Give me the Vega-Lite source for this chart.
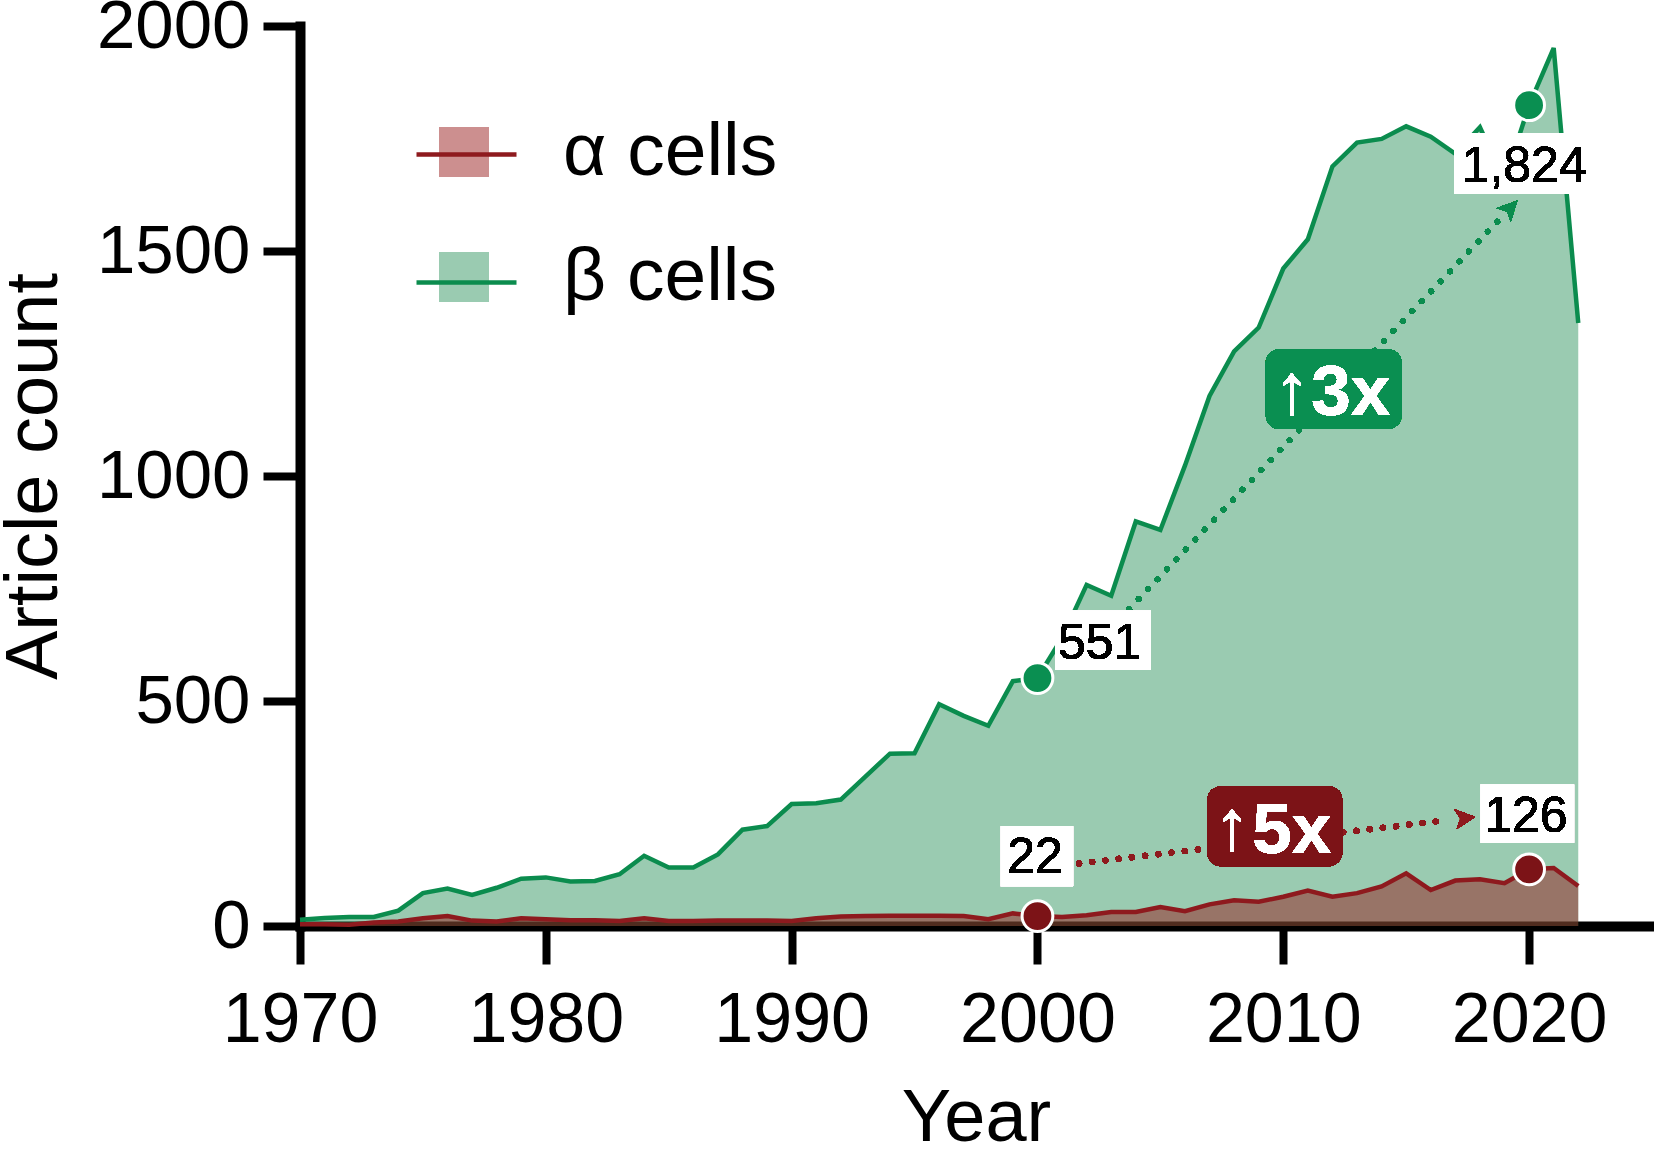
{
  "$schema": "https://vega.github.io/schema/vega-lite/v6.json",
  "width": 1352,
  "height": 900,
  "autosize": {"type": "none"},
  "padding": {"left": 300, "top": 26, "right": 2, "bottom": 223},
  "background": "white",
  "config": {"view": {"stroke": null}, "font": "Liberation Sans"},
  "datasets": {
    "counts": [
      {"year": 1970, "series": "α cells", "count": 4}, {"year": 1971, "series": "α cells", "count": 4}, {"year": 1972, "series": "α cells", "count": 3}, {"year": 1973, "series": "α cells", "count": 8}, {"year": 1974, "series": "α cells", "count": 10}, {"year": 1975, "series": "α cells", "count": 17}, {"year": 1976, "series": "α cells", "count": 22}, {"year": 1977, "series": "α cells", "count": 12}, {"year": 1978, "series": "α cells", "count": 10}, {"year": 1979, "series": "α cells", "count": 17},
      {"year": 1980, "series": "α cells", "count": 15}, {"year": 1981, "series": "α cells", "count": 13}, {"year": 1982, "series": "α cells", "count": 13}, {"year": 1983, "series": "α cells", "count": 11}, {"year": 1984, "series": "α cells", "count": 17}, {"year": 1985, "series": "α cells", "count": 11}, {"year": 1986, "series": "α cells", "count": 11}, {"year": 1987, "series": "α cells", "count": 12}, {"year": 1988, "series": "α cells", "count": 12}, {"year": 1989, "series": "α cells", "count": 12},
      {"year": 1990, "series": "α cells", "count": 11}, {"year": 1991, "series": "α cells", "count": 17}, {"year": 1992, "series": "α cells", "count": 21}, {"year": 1993, "series": "α cells", "count": 22}, {"year": 1994, "series": "α cells", "count": 23}, {"year": 1995, "series": "α cells", "count": 23}, {"year": 1996, "series": "α cells", "count": 23}, {"year": 1997, "series": "α cells", "count": 22}, {"year": 1998, "series": "α cells", "count": 15}, {"year": 1999, "series": "α cells", "count": 28},
      {"year": 2000, "series": "α cells", "count": 22}, {"year": 2001, "series": "α cells", "count": 20}, {"year": 2002, "series": "α cells", "count": 24}, {"year": 2003, "series": "α cells", "count": 31}, {"year": 2004, "series": "α cells", "count": 31}, {"year": 2005, "series": "α cells", "count": 42}, {"year": 2006, "series": "α cells", "count": 33}, {"year": 2007, "series": "α cells", "count": 48}, {"year": 2008, "series": "α cells", "count": 57}, {"year": 2009, "series": "α cells", "count": 54},
      {"year": 2010, "series": "α cells", "count": 65}, {"year": 2011, "series": "α cells", "count": 79}, {"year": 2012, "series": "α cells", "count": 65}, {"year": 2013, "series": "α cells", "count": 73}, {"year": 2014, "series": "α cells", "count": 88}, {"year": 2015, "series": "α cells", "count": 117}, {"year": 2016, "series": "α cells", "count": 80}, {"year": 2017, "series": "α cells", "count": 101}, {"year": 2018, "series": "α cells", "count": 104}, {"year": 2019, "series": "α cells", "count": 95},
      {"year": 2020, "series": "α cells", "count": 126}, {"year": 2021, "series": "α cells", "count": 129}, {"year": 2022, "series": "α cells", "count": 89},
      {"year": 1970, "series": "β cells", "count": 14}, {"year": 1971, "series": "β cells", "count": 18}, {"year": 1972, "series": "β cells", "count": 20}, {"year": 1973, "series": "β cells", "count": 20}, {"year": 1974, "series": "β cells", "count": 34}, {"year": 1975, "series": "β cells", "count": 73}, {"year": 1976, "series": "β cells", "count": 83}, {"year": 1977, "series": "β cells", "count": 69}, {"year": 1978, "series": "β cells", "count": 85}, {"year": 1979, "series": "β cells", "count": 105},
      {"year": 1980, "series": "β cells", "count": 108}, {"year": 1981, "series": "β cells", "count": 99}, {"year": 1982, "series": "β cells", "count": 100}, {"year": 1983, "series": "β cells", "count": 115}, {"year": 1984, "series": "β cells", "count": 156}, {"year": 1985, "series": "β cells", "count": 130}, {"year": 1986, "series": "β cells", "count": 130}, {"year": 1987, "series": "β cells", "count": 159}, {"year": 1988, "series": "β cells", "count": 214}, {"year": 1989, "series": "β cells", "count": 222},
      {"year": 1990, "series": "β cells", "count": 271}, {"year": 1991, "series": "β cells", "count": 273}, {"year": 1992, "series": "β cells", "count": 281}, {"year": 1993, "series": "β cells", "count": 332}, {"year": 1994, "series": "β cells", "count": 383}, {"year": 1995, "series": "β cells", "count": 384}, {"year": 1996, "series": "β cells", "count": 493}, {"year": 1997, "series": "β cells", "count": 467}, {"year": 1998, "series": "β cells", "count": 445}, {"year": 1999, "series": "β cells", "count": 544},
      {"year": 2000, "series": "β cells", "count": 551}, {"year": 2001, "series": "β cells", "count": 640}, {"year": 2002, "series": "β cells", "count": 758}, {"year": 2003, "series": "β cells", "count": 734}, {"year": 2004, "series": "β cells", "count": 899}, {"year": 2005, "series": "β cells", "count": 880}, {"year": 2006, "series": "β cells", "count": 1023}, {"year": 2007, "series": "β cells", "count": 1178}, {"year": 2008, "series": "β cells", "count": 1277}, {"year": 2009, "series": "β cells", "count": 1330},
      {"year": 2010, "series": "β cells", "count": 1461}, {"year": 2011, "series": "β cells", "count": 1526}, {"year": 2012, "series": "β cells", "count": 1688}, {"year": 2013, "series": "β cells", "count": 1741}, {"year": 2014, "series": "β cells", "count": 1749}, {"year": 2015, "series": "β cells", "count": 1777}, {"year": 2016, "series": "β cells", "count": 1754}, {"year": 2017, "series": "β cells", "count": 1716}, {"year": 2018, "series": "β cells", "count": 1775}, {"year": 2019, "series": "β cells", "count": 1655},
      {"year": 2020, "series": "β cells", "count": 1824}, {"year": 2021, "series": "β cells", "count": 1951}, {"year": 2022, "series": "β cells", "count": 1340}
    ]
  },
  "data": {"name": "counts"},
  "layer": [
    {
      "transform": [{"filter": "datum.series === 'β cells'"}],
      "mark": {"type": "area", "fillOpacity": 1},
      "encoding": {
        "x": {"field": "year", "type": "quantitative", "scale": {"domain": [1970, 2025], "nice": false, "zero": false},
          "axis": {"values": [1970, 1980, 1990, 2000, 2010, 2020], "format": "d", "labelFontSize": 70, "labelFont": "Liberation Sans", "labelColor": "black", "labelPadding": 22, "labelFlush": false, "labelOverlap": false, "labelBound": false, "tickSize": 38, "tickWidth": 8, "tickColor": "black", "domainColor": "black", "domainWidth": 10, "domainCap": "square", "grid": false, "title": "Year", "titleFont": "Liberation Sans", "titleFontSize": 74, "titleFontWeight": "normal", "titleColor": "black", "titlePadding": 27}},
        "y": {"field": "count", "type": "quantitative", "stack": null, "scale": {"domain": [0, 2000], "nice": false},
          "axis": {"values": [0, 500, 1000, 1500, 2000], "format": "d", "labelFontSize": 69, "labelFont": "Liberation Sans", "labelColor": "black", "labelPadding": 13, "labelFlush": false, "labelOverlap": false, "tickSize": 37, "tickWidth": 8, "tickColor": "black", "domainColor": "black", "domainWidth": 10, "domainCap": "square", "grid": false, "title": "Article count", "titleFont": "Liberation Sans", "titleFontSize": 74, "titleFontWeight": "normal", "titleColor": "black", "titlePadding": 28}},
        "fill": {"field": "series", "type": "nominal",
          "scale": {"domain": ["α cells", "β cells"], "range": ["rgba(150,24,24,0.485)", "rgba(31,139,82,0.45)"]},
          "legend": {"orient": "none", "legendX": 114, "legendY": 76, "title": null, "padding": 0, "symbolType": "M-0.5,-0.5H0.5V0.5H-0.5Z", "symbolSize": 10000, "symbolStrokeWidth": 0, "symbolOpacity": 1, "labelFont": "Liberation Sans", "labelFontSize": 75, "labelColor": "black", "labelOffset": 49, "labelLimit": 600, "rowPadding": 37}}
      }
    },
    {
      "transform": [{"filter": "datum.series === 'α cells'"}],
      "mark": {"type": "area", "fillOpacity": 1},
      "encoding": {
        "x": {"field": "year", "type": "quantitative"},
        "y": {"field": "count", "type": "quantitative", "stack": null},
        "fill": {"field": "series", "type": "nominal"}
      }
    },
    {
      "transform": [{"filter": "datum.series === 'β cells'"}],
      "mark": {"type": "line", "strokeWidth": 4.5},
      "encoding": {
        "x": {"field": "year", "type": "quantitative"},
        "y": {"field": "count", "type": "quantitative"},
        "stroke": {"field": "series", "type": "nominal", "scale": {"range": ["#8E1A1E", "#0B8C4E"]},
          "legend": {"orient": "none", "legendX": 114, "legendY": 76, "title": null, "padding": 0, "symbolType": "M-1,0H1", "symbolSize": 10000, "symbolStrokeWidth": 4.5, "symbolOpacity": 1, "labelFont": "Liberation Sans", "labelFontSize": 75, "labelOpacity": 0, "labelOffset": 49, "labelLimit": 600, "rowPadding": 37}}
      }
    },
    {
      "transform": [{"filter": "datum.series === 'α cells'"}],
      "mark": {"type": "line", "strokeWidth": 4.5},
      "encoding": {
        "x": {"field": "year", "type": "quantitative"},
        "y": {"field": "count", "type": "quantitative"},
        "stroke": {"field": "series", "type": "nominal"}
      }
    },
    {
      "mark": {"type": "rule", "stroke": "#0B8C4E", "strokeWidth": 5.5, "strokeCap": "round", "strokeDash": [0.1, 13.6]},
      "encoding": {
        "x": {"datum": 2003.73, "type": "quantitative"},
        "y": {"datum": 704.4, "type": "quantitative"},
        "x2": {"datum": 2018.9},
        "y2": {"datum": 1576.3}
      }
    },
    {
      "mark": {"type": "point", "shape": "M0,-1L0.9,0.8L0,0.35L-0.9,0.8Z", "filled": true, "size": 484, "angle": 43.5, "fill": "#0B8C4E", "opacity": 1, "strokeWidth": 0},
      "encoding": {
        "x": {"datum": 2019.21, "type": "quantitative"},
        "y": {"datum": 1594.1, "type": "quantitative"}
      }
    },
    {
      "mark": {"type": "rule", "stroke": "#8E1A1E", "strokeWidth": 6, "strokeCap": "round", "strokeDash": [0.1, 13.2]},
      "encoding": {
        "x": {"datum": 2001.69, "type": "quantitative"},
        "y": {"datum": 138.8, "type": "quantitative"},
        "x2": {"datum": 2016.62},
        "y2": {"datum": 235.0}
      }
    },
    {
      "mark": {"type": "point", "shape": "M0,-1L0.9,0.8L0,0.35L-0.9,0.8Z", "filled": true, "size": 484, "angle": 83.3, "fill": "#8E1A1E", "opacity": 1, "strokeWidth": 0},
      "encoding": {
        "x": {"datum": 2017.36, "type": "quantitative"},
        "y": {"datum": 239.6, "type": "quantitative"}
      }
    },
    {
      "mark": {"type": "rect", "fill": "white", "fillOpacity": 0.8},
      "encoding": {"x": {"datum": 2000.72, "type": "quantitative"}, "x2": {"datum": 2004.61}, "y": {"datum": 701.3, "type": "quantitative"}, "y2": {"datum": 569.6}}
    },
    {
      "mark": {"type": "rect", "fill": "white", "fillOpacity": 0.8},
      "encoding": {"x": {"datum": 2016.95, "type": "quantitative"}, "x2": {"datum": 2021.63}, "y": {"datum": 1761.5, "type": "quantitative"}, "y2": {"datum": 1626.7}}
    },
    {
      "mark": {"type": "rect", "fill": "white", "fillOpacity": 0.8},
      "encoding": {"x": {"datum": 1998.51, "type": "quantitative"}, "x2": {"datum": 2001.45}, "y": {"datum": 221.6, "type": "quantitative"}, "y2": {"datum": 88.4}}
    },
    {
      "mark": {"type": "rect", "fill": "white", "fillOpacity": 0.8},
      "encoding": {"x": {"datum": 2018.03, "type": "quantitative"}, "x2": {"datum": 2021.83}, "y": {"datum": 314.2, "type": "quantitative"}, "y2": {"datum": 184.8}}
    },
    {
      "mark": {"type": "text", "font": "Liberation Sans", "fontSize": 50, "fill": "black", "align": "center", "baseline": "alphabetic"},
      "encoding": {"x": {"datum": 2002.53, "type": "quantitative"}, "y": {"datum": 594.0, "type": "quantitative"}, "text": {"value": "551"}}
    },
    {
      "mark": {"type": "text", "font": "Liberation Sans", "fontSize": 50, "fill": "black", "align": "center", "baseline": "alphabetic"},
      "encoding": {"x": {"datum": 2019.8, "type": "quantitative"}, "y": {"datum": 1654.0, "type": "quantitative"}, "text": {"value": "1,824"}}
    },
    {
      "mark": {"type": "text", "font": "Liberation Sans", "fontSize": 50, "fill": "black", "align": "center", "baseline": "alphabetic"},
      "encoding": {"x": {"datum": 1999.9, "type": "quantitative"}, "y": {"datum": 118.1, "type": "quantitative"}, "text": {"value": "22"}}
    },
    {
      "mark": {"type": "text", "font": "Liberation Sans", "fontSize": 50, "fill": "black", "align": "center", "baseline": "alphabetic"},
      "encoding": {"x": {"datum": 2019.87, "type": "quantitative"}, "y": {"datum": 208.3, "type": "quantitative"}, "text": {"value": "126"}}
    },
    {
      "mark": {"type": "rect", "fill": "#0A8F51", "cornerRadius": 14},
      "encoding": {"x": {"datum": 2009.29, "type": "quantitative"}, "x2": {"datum": 2014.82}, "y": {"datum": 1281.8, "type": "quantitative"}, "y2": {"datum": 1104.2}}
    },
    {
      "mark": {"type": "rect", "fill": "#7C1317", "cornerRadius": 14},
      "encoding": {"x": {"datum": 2006.91, "type": "quantitative"}, "x2": {"datum": 2012.40}, "y": {"datum": 310.5, "type": "quantitative"}, "y2": {"datum": 132.8}}
    },
    {
      "mark": {"type": "text", "font": "Liberation Sans", "fontSize": 71, "fontWeight": "bold", "fill": "white", "align": "center", "baseline": "alphabetic"},
      "encoding": {"x": {"datum": 2012.74, "type": "quantitative"}, "y": {"datum": 1135.1, "type": "quantitative"}, "text": {"value": "3x"}}
    },
    {
      "mark": {"type": "text", "font": "Liberation Sans", "fontSize": 72, "fill": "white", "align": "center", "baseline": "middle"},
      "encoding": {"x": {"datum": 2010.36, "type": "quantitative"}, "y": {"datum": 1187.1, "type": "quantitative"}, "text": {"value": "↑"}}
    },
    {
      "mark": {"type": "text", "font": "Liberation Sans", "fontSize": 71, "fontWeight": "bold", "fill": "white", "align": "center", "baseline": "alphabetic"},
      "encoding": {"x": {"datum": 2010.34, "type": "quantitative"}, "y": {"datum": 162.6, "type": "quantitative"}, "text": {"value": "5x"}}
    },
    {
      "mark": {"type": "text", "font": "Liberation Sans", "fontSize": 72, "fill": "white", "align": "center", "baseline": "middle"},
      "encoding": {"x": {"datum": 2007.92, "type": "quantitative"}, "y": {"datum": 218.7, "type": "quantitative"}, "text": {"value": "↑"}}
    },
    {
      "transform": [{"filter": "datum.year === 2000 || datum.year === 2020"}],
      "mark": {"type": "point", "filled": true, "size": 950, "stroke": "white", "strokeWidth": 3, "opacity": 1},
      "encoding": {
        "x": {"field": "year", "type": "quantitative"},
        "y": {"field": "count", "type": "quantitative"},
        "color": {"field": "series", "type": "nominal", "scale": {"range": ["#7C1317", "#0A8F51"]}, "legend": null}
      }
    }
  ]
}
